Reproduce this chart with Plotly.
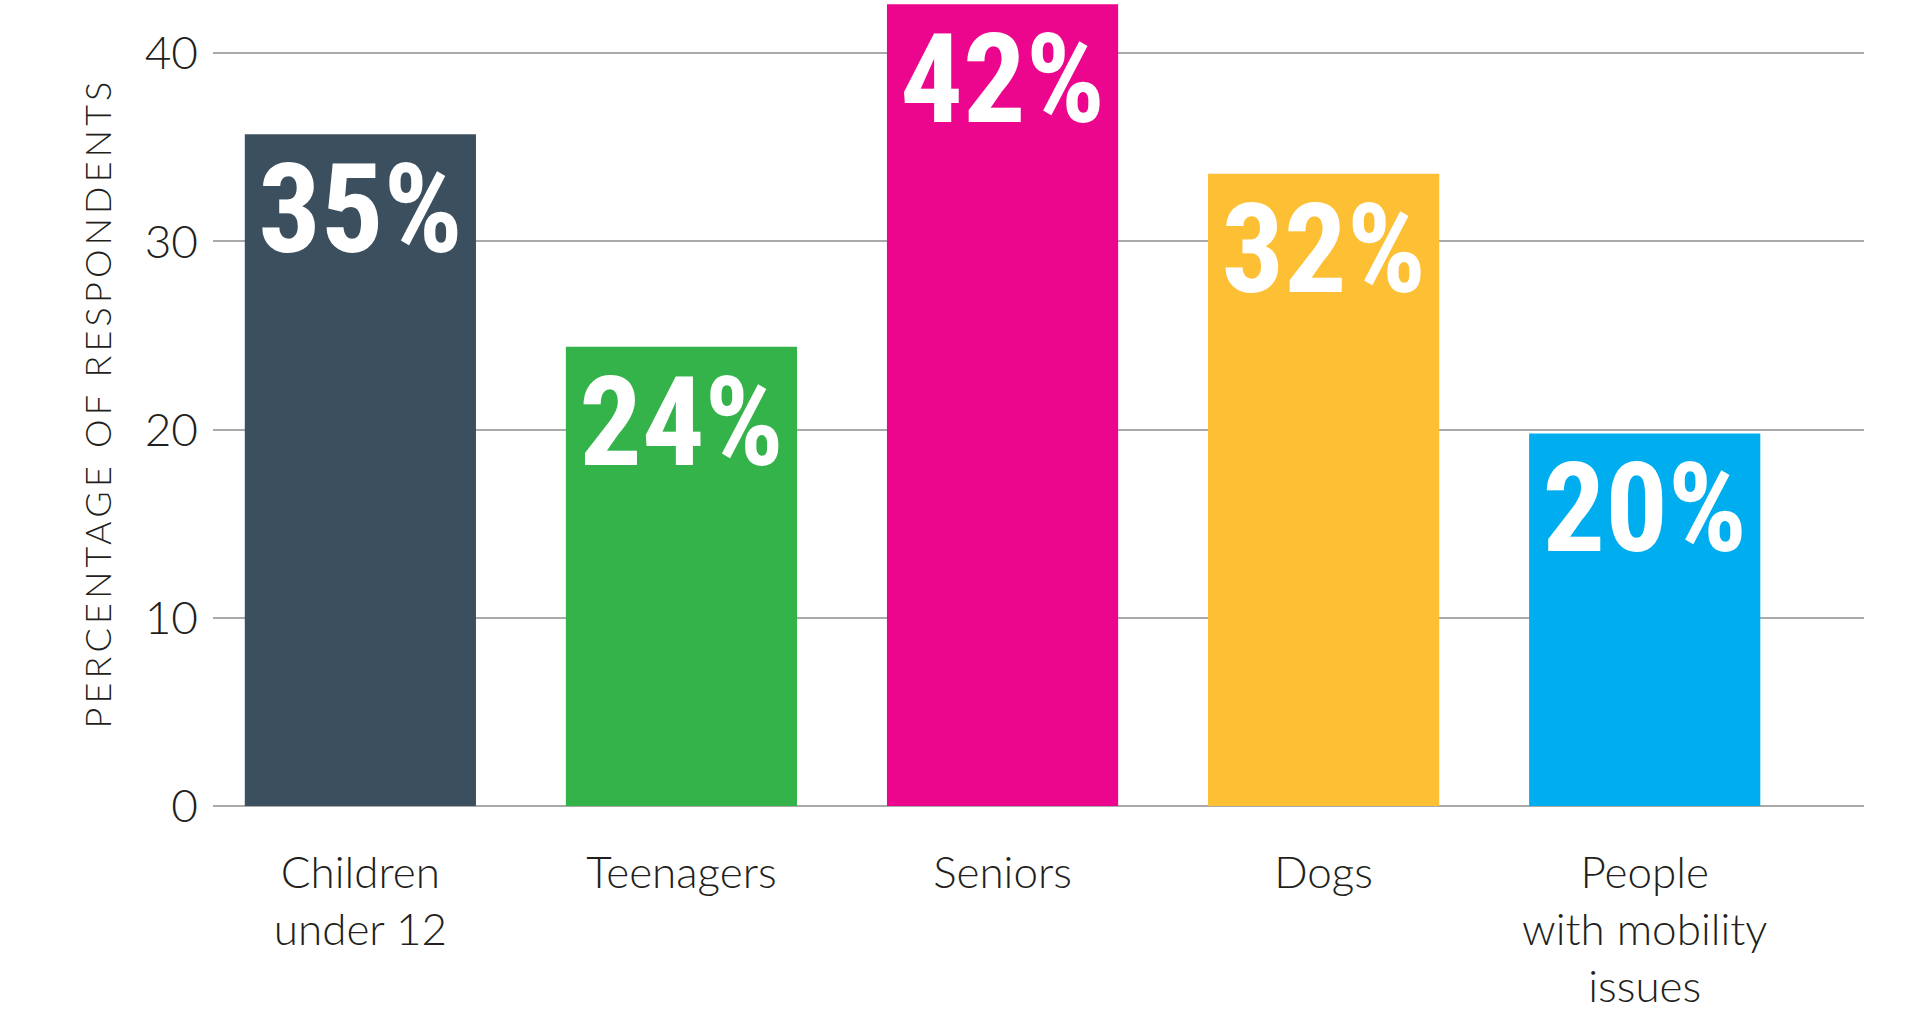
import plotly.graph_objects as go

categories = ["Children<br>under 12", "Teenagers", "Seniors", "Dogs", "People<br>with mobility<br>issues"]
values = [35.7, 24.4, 42.6, 33.6, 19.8]
labels = ["35%", "24%", "42%", "32%", "20%"]
colors = ["#3b4f5e", "#33b34a", "#ec068d", "#fdbf34", "#00aeef"]
y_ticks = [0, 10, 20, 30, 40]

fig = go.Figure(
    go.Bar(
        x=categories,
        y=values,
        width=0.72,
        marker=dict(color=colors, line=dict(width=0)),
        text=labels,
        textposition="inside",
        insidetextanchor="end",
        textangle=0,
        textfont=dict(family="Roboto Condensed, Liberation Sans Narrow, sans-serif",
                      size=124, color="white", weight="bold"),
        cliponaxis=True,
        hoverinfo="skip",
    )
)

fig.update_layout(
    width=1909,
    height=1017,
    margin=dict(l=213, r=45, t=0, b=211),
    paper_bgcolor="white",
    plot_bgcolor="white",
    showlegend=False,
    font=dict(family="Lato, sans-serif", color="#231f20"),
    xaxis=dict(
        type="category",
        range=[-0.459, 4.683],
        showgrid=False,
        showline=False,
        ticks="",
        tickfont=dict(size=44, color="#231f20", weight=300),
        ticklabelstandoff=37,
        fixedrange=True,
    ),
    yaxis=dict(
        range=[0, 42.83],
        tickvals=y_ticks,
        ticktext=[str(v) for v in y_ticks],
        showgrid=True,
        gridcolor="#aaaaaa",
        gridwidth=1.5,
        zeroline=True,
        zerolinecolor="#aaaaaa",
        zerolinewidth=1.5,
        showline=False,
        ticks="",
        tickfont=dict(size=46, color="#231f20", weight=300),
        ticklabelstandoff=14,
        title=dict(text="PERCENTAGE OF RESPONDENTS",
                   font=dict(family="Lato, sans-serif", size=36, color="#231f20", weight=300),
                   standoff=22),
        fixedrange=True,
    ),
)

post = (
    "document.body.style.margin='0';"
    "document.body.style.overflow='hidden';"
    "document.querySelectorAll('.ytitle').forEach(function(t){t.style.letterSpacing='4.2px';});"
)

fig.write_html("out.html", config={"displayModeBar": False}, post_script=post)
